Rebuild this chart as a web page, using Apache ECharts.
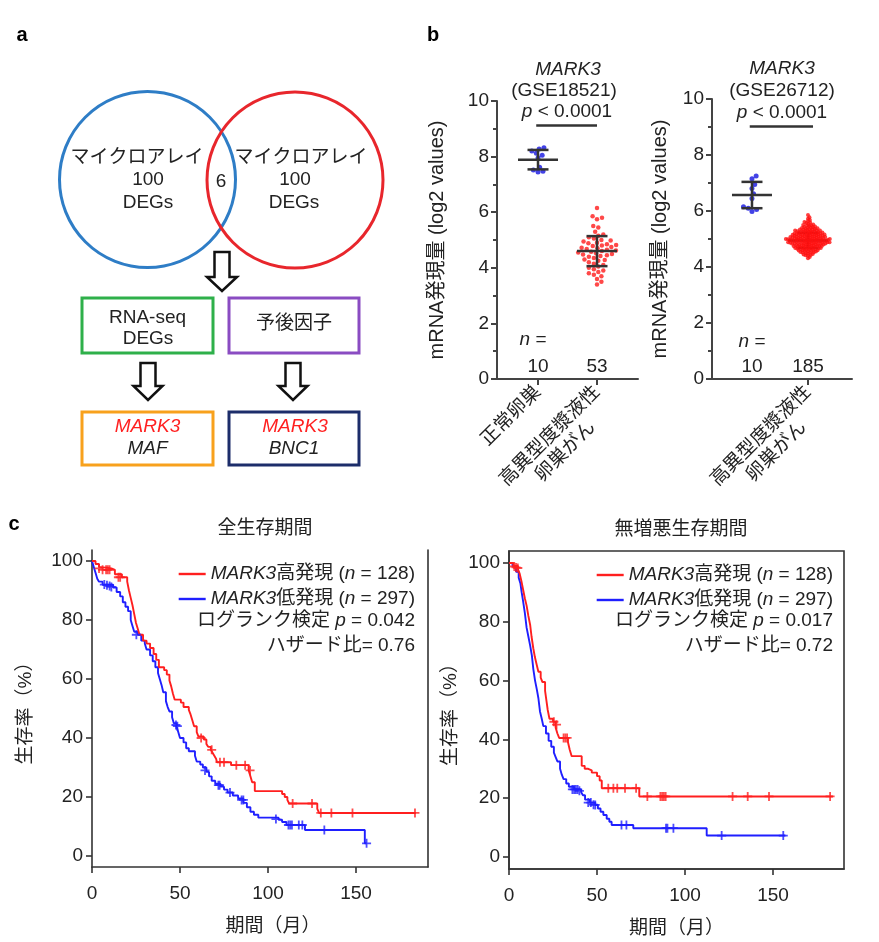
<!DOCTYPE html>
<html><head><meta charset="utf-8">
<script src="https://cdn.jsdelivr.net/npm/echarts@6/dist/echarts.min.js"></script>
<style>html,body{margin:0;padding:0;background:#fff}#c{width:879px;height:942px}</style>
</head><body><div id="c"></div>
<script>
// ---------- data ----------
const bCategories = ['正常卵巣', '高異型度漿液性卵巣がん'];
const b1Title = ['MARK3', '(GSE18521)'];
const b2Title = ['MARK3', '(GSE26712)'];
const b1N = ['10', '53'];
const b2N = ['10', '185'];
const b1NormalVals = [8.32, 8.27, 8.2, 8.12, 8.05, 7.95, 7.62, 7.52, 7.47, 7.45];
const b1CancerVals = [6.15, 5.85, 5.8, 5.75, 5.5, 5.45, 5.3, 5.2, 5.15, 5.1, 5.05, 5.0, 4.98, 4.95, 4.9, 4.88, 4.85, 4.82, 4.8, 4.78, 4.75, 4.72, 4.7, 4.68, 4.65, 4.62, 4.6, 4.58, 4.55, 4.52, 4.5, 4.48, 4.45, 4.42, 4.4, 4.35, 4.3, 4.28, 4.25, 4.2, 4.15, 4.1, 4.05, 4.0, 3.95, 3.9, 3.85, 3.8, 3.75, 3.7, 3.6, 3.5, 3.4];
const b2NormalVals = [7.25, 7.15, 6.95, 6.8, 6.62, 6.45, 6.15, 6.1, 6.05, 5.98];
const b2CancerVals = [5.86,
 5.78,5.72,
 5.68,5.64,5.61,
 5.59,5.57,5.54,5.52,5.50,
 5.49,5.48,5.46,5.45,5.43,5.42,5.41,5.40,
 5.39,5.38,5.37,5.36,5.35,5.34,5.34,5.33,5.32,5.31,5.30,5.30,
 5.29,5.29,5.28,5.27,5.27,5.26,5.25,5.25,5.24,5.23,5.23,5.22,5.21,5.21,5.20,5.20,
 5.19,5.19,5.18,5.18,5.17,5.17,5.16,5.16,5.15,5.15,5.14,5.14,5.13,5.13,5.12,5.12,5.11,5.11,5.10,5.10,
 5.09,5.09,5.08,5.08,5.07,5.07,5.06,5.06,5.05,5.05,5.05,5.04,5.04,5.03,5.03,5.02,5.02,5.01,5.01,5.00,5.00,5.00,
 4.99,4.99,4.99,4.98,4.98,4.97,4.97,4.97,4.96,4.96,4.95,4.95,4.95,4.94,4.94,4.93,4.93,4.93,4.92,4.92,4.91,4.91,4.90,4.90,
 4.89,4.89,4.88,4.88,4.88,4.87,4.87,4.86,4.86,4.85,4.85,4.85,4.84,4.84,4.83,4.83,4.82,4.82,4.81,4.81,4.80,4.80,
 4.79,4.79,4.78,4.78,4.77,4.77,4.76,4.75,4.75,4.74,4.74,4.73,4.72,4.72,4.71,4.71,4.70,4.70,
 4.69,4.68,4.68,4.67,4.66,4.65,4.65,4.64,4.63,4.63,4.62,4.61,4.60,4.60,
 4.59,4.58,4.57,4.56,4.55,4.54,4.53,4.52,4.51,4.50,
 4.48,4.46,4.45,4.43,4.42,4.40,
 4.36,4.31];
const b1Mean = [7.89, 4.6];
const b1SD = [0.35, 0.54];
const b2Mean = [6.57, 4.95];
const b2SD = [0.47, 0.27];
const b1SigY = 9.14;
const b2SigY = 9.04;

const cXTicks = [0, 50, 100, 150];
const cYTicks = [0, 20, 40, 60, 80, 100];
// Kaplan-Meier steps [month, survival %]
const osHigh = [[0,100],[2,99],[4,98],[5,97.5],[11,97],[13,95.5],[17,94.5],[20,93],[21,90],[22,87.5],[23,85],[24,82],[25,79],[26,77],[27,75],[29,73],[31,72],[33,70.5],[35,68.5],[36.5,66.5],[38,64],[41,63],[42.5,61.5],[44,59.5],[45,57.5],[46,55],[47,53],[50.5,52],[52,50.5],[55,49.5],[56,48],[57,46],[58,44],[59.5,42],[60.5,40.5],[63.5,39.5],[65,38],[66,37],[67.5,36],[68.5,35],[69.5,34],[70.5,33],[71,31.8],[79,30.8],[89,29],[90,27],[91,25],[92.5,22],[108,21],[109.5,20],[111,19],[112,17.8],[128,16],[129,14.6],[184,14.6]];
const osHighCensor = [[4,97.5],[6,97],[8,97],[9,97],[10,97],[15,94.5],[16,94.5],[62,40],[68,36],[72.7,31.8],[75,31.8],[82,30.8],[87,30.8],[89.8,29],[114,17.8],[125,17.8],[130,14.6],[136,14.6],[148,14.6],[183.5,14.6]];
const osLow = [[0,100],[1,98],[2,96],[3,94],[4,93],[6,92],[12,91],[14,89.5],[16,88],[17.5,86],[19,84.5],[20.5,83],[22,80],[23,78],[24,76],[26,75],[28,73],[30,72],[31,70],[33,68],[34.5,66],[36,64],[37.5,62],[38.5,60],[39.5,58],[40.5,55.5],[42,52.5],[43,50.5],[44,49],[45.5,47],[46.5,45],[48,44],[49,42],[50,40],[52,38.5],[53.5,36.5],[55,35.5],[58.5,34],[59.5,32],[61.5,31],[63,30],[65,28.5],[66.5,27],[68,25.5],[70,24.5],[73,23.5],[75,22.5],[77,21.5],[80,20.5],[83,19.5],[86,18],[88,16.5],[90,15],[92,14],[94.5,13],[106,12.3],[108,11.5],[110.5,10.5],[121,8.8],[155,4.3],[156,4.3]];
const osLowCensor = [[7,92],[8.5,91.8],[10,91.5],[11,91.2],[25.2,75],[47.7,44.4],[48.5,44],[64.2,29],[71.8,24],[72.5,24],[78.4,21.5],[85,19],[86,19],[104.5,12.5],[111.6,10.5],[112.6,10.5],[113.6,10.5],[117.5,10.5],[119.5,10.5],[132,8.8],[156,4.3]];
const pfsHigh = [[0,100],[2.5,99],[5,98],[6,96.5],[7,94],[8,91],[9,88],[10,85.5],[11,82],[12,79],[12.8,75],[13.8,71],[14.7,68],[15.7,65.5],[16.7,63],[18,61],[19,59.5],[20.5,56.5],[21.3,53],[22,50],[23,47],[25,46],[26.5,44],[27.5,42],[28.5,40.5],[33.5,39],[34.5,36.5],[35.6,34.3],[41.3,31],[43,30],[45,29.5],[47,28.7],[50,27.5],[51.5,26],[52.7,23.4],[74,20.6],[184,20.6]];
const pfsHighCensor = [[3,98.8],[4,98.5],[5,98.3],[25.5,46],[27,45],[31,40.5],[32,40.5],[33,40.5],[56.4,23.4],[59.3,23.4],[61.5,23.4],[65.9,23.4],[72.2,23.4],[78.6,20.6],[86,20.6],[87,20.6],[88,20.6],[89,20.6],[127,20.6],[135.6,20.6],[147.7,20.6],[182.4,20.6]];
const pfsLow = [[0,100],[2,99],[4,97],[5.5,95],[6.5,93],[7.2,90],[8,87],[9,83],[10,78],[11,75],[12,72],[13,68.5],[13.8,64],[14.8,60],[15.8,57],[16.7,54],[17.6,49.5],[18.6,47],[19.5,44.5],[21,42],[22.5,39.5],[24,37.5],[25.5,35.5],[26.5,34],[27.5,32.5],[29,30],[30,28],[31,26.5],[32.5,25],[34,23.9],[37,23],[41,22],[42,21],[43.2,19.5],[46,18.5],[49,17.7],[50.5,16.5],[52,15.4],[53.6,14.3],[55.5,13],[57,12],[58.3,10.9],[70.6,9.8],[112.3,7.3],[157,7.3]];
const pfsLowCensor = [[36,23],[37,23],[38,23],[39,23],[40,22.5],[45,18.5],[46.5,18.5],[48,17.8],[49,17.7],[63.9,10.9],[66.7,10.9],[89.2,9.8],[90,9.8],[93.4,9.8],[120.8,7.3],[155.8,7.3]];
const osStats = ['0.042', '0.76'];
const pfsStats = ['0.017', '0.72'];
const legendN = ['128', '297'];

// ---------- helpers ----------
const FONT = "'Liberation Sans', Arial, 'Noto Sans CJK JP', sans-serif";
const TXT = '#222';
const RED = '#ff1f1f', BLUE = '#1f1fff';
const FB = 19;   // panel b font size
const FC = 19;   // panel c font size
const FA = 19;   // panel a font size

function swarm(values, dPx, pxPerY) {
  const idx = values.map((v, i) => i).sort((a, b) => values[a] - values[b]);
  const placed = [], off = new Array(values.length);
  for (const i of idx) {
    const y = values[i] * pxPerY;
    const near = placed.filter(p => Math.abs(p.y - y) < dPx);
    const cands = [0];
    near.forEach(p => { const dx = Math.sqrt(dPx * dPx - (p.y - y) * (p.y - y)); cands.push(p.x + dx + 0.01, p.x - dx - 0.01); });
    cands.sort((a, b) => Math.abs(a) - Math.abs(b));
    let x = 0;
    for (const c of cands) { if (near.every(p => (p.x - c) * (p.x - c) + (p.y - y) * (p.y - y) >= dPx * dPx - 1e-6)) { x = c; break; } }
    placed.push({ x, y }); off[i] = x;
  }
  return off;
}
function swarmData(values, cat, dPx, pxPerY, pxPerX) {
  const off = swarm(values, dPx, pxPerY);
  return values.map((v, i) => [cat + off[i] / pxPerX, v]);
}
function errRender(halfMean, halfCap) {
  return function (params, api) {
    const x = api.value(0), m = api.value(1), s = api.value(2);
    const c = api.coord([x, m]), t = api.coord([x, m + s]), b = api.coord([x, m - s]);
    const st = { stroke: '#333', lineWidth: 2.5 };
    return { type: 'group', children: [
      { type: 'line', shape: { x1: c[0] - halfMean, y1: c[1], x2: c[0] + halfMean, y2: c[1] }, style: st },
      { type: 'line', shape: { x1: c[0], y1: t[1], x2: c[0], y2: b[1] }, style: st },
      { type: 'line', shape: { x1: c[0] - halfCap, y1: t[1], x2: c[0] + halfCap, y2: t[1] }, style: st },
      { type: 'line', shape: { x1: c[0] - halfCap, y1: b[1], x2: c[0] + halfCap, y2: b[1] }, style: st }
    ] };
  };
}
function T(x, y, text, size, extra) {
  return { type: 'text', x, y, z: 20, style: Object.assign({ text, fontSize: size, fontFamily: FONT, fill: TXT, align: 'center', verticalAlign: 'middle' }, extra || {}) };
}
function richI(size, color) { return { i: { fontStyle: 'italic', fontSize: size, fontFamily: FONT, fill: color || TXT } }; }
function arrow(cx, top, shaftEnd, bottom, sh, hh) {
  return { type: 'polygon', z: 20, shape: { points: [[cx - sh, top], [cx + sh, top], [cx + sh, shaftEnd], [cx + hh, shaftEnd], [cx, bottom], [cx - hh, shaftEnd], [cx - sh, shaftEnd]] }, style: { fill: '#fff', stroke: '#111', lineWidth: 2.5 } };
}
function box(x, y, w, h, color) {
  return { type: 'rect', z: 20, shape: { x, y, width: w, height: h }, style: { fill: 'none', stroke: color, lineWidth: 3 } };
}
const PLUS = 'path://M4,0L6,0L6,4L10,4L10,6L6,6L6,10L4,10L4,6L0,6L0,4L4,4Z';

// ---------- axes ----------
const axisCol = '#444';
function bXAxis(grid, min, max) {
  return {
    gridIndex: grid, type: 'value', min, max,
    axisLine: { show: true, onZero: false, lineStyle: { color: axisCol, width: 2 } },
    axisTick: { show: true, customValues: [1, 2], length: 6, lineStyle: { color: axisCol, width: 2 } },
    splitLine: { show: false },
    axisLabel: {
      customValues: [1, 2], rotate: 45, margin: 10, fontSize: FB, fontFamily: FONT, color: TXT,
      formatter: v => Math.round(v) === 1 ? bCategories[0] : '{e| }\n{c|高異型度漿液性}\n{c|卵巣がん}',
      rich: { c: { width: FB * 7, align: 'center', fontSize: FB, lineHeight: 22, fontFamily: FONT, color: TXT },
              e: { width: FB * 7, fontSize: FB, lineHeight: 22 } }
    }
  };
}
function bYAxis(grid, gap) {
  return {
    gridIndex: grid, type: 'value', min: 0, max: 10, interval: 2,
    name: 'mRNA発現量 (log2 values)', nameLocation: 'middle', nameRotate: 90, nameGap: gap,
    nameTextStyle: { fontSize: 20, fontFamily: FONT, color: TXT },
    axisLine: { show: true, onZero: false, lineStyle: { color: axisCol, width: 2 } },
    axisTick: { show: true, length: 6, lineStyle: { color: axisCol, width: 2 } },
    minorTick: { show: true, splitNumber: 2, length: 4, lineStyle: { color: axisCol, width: 2 } },
    splitLine: { show: false }, minorSplitLine: { show: false },
    axisLabel: { margin: 8, fontSize: FB, fontFamily: FONT, color: TXT }
  };
}
function cXAxis(grid, max, pad) {
  return {
    gridIndex: grid, type: 'value', min: 0, max,
    name: '期間（月）', nameLocation: 'middle', nameGap: 50,
    nameTextStyle: { fontSize: FC, fontFamily: FONT, color: TXT, padding: [0, 0, 0, pad] },
    axisLine: { show: true, onZero: false, lineStyle: { color: '#333', width: 1.6 } },
    axisTick: { show: true, customValues: cXTicks, length: 6, lineStyle: { color: '#333', width: 1.6 } },
    axisLabel: { customValues: cXTicks, margin: 17, fontSize: FC, fontFamily: FONT, color: TXT },
    splitLine: { show: false }
  };
}
function cYAxis(grid, min, max, gap) {
  return {
    gridIndex: grid, type: 'value', min, max,
    name: '生存率（%）', nameLocation: 'middle', nameRotate: 90, nameGap: gap,
    nameTextStyle: { fontSize: FC, fontFamily: FONT, color: TXT },
    axisLine: { show: true, onZero: false, lineStyle: { color: '#333', width: 1.6 } },
    axisTick: { show: true, customValues: cYTicks, length: 6, lineStyle: { color: '#333', width: 1.6 } },
    axisLabel: { customValues: cYTicks, margin: 9, fontSize: FC, fontFamily: FONT, color: TXT },
    splitLine: { show: false }
  };
}

function kmLine(name, data, color, xi) {
  return { name, type: 'line', step: 'end', data, xAxisIndex: xi, yAxisIndex: xi, symbol: 'none', showSymbol: false,
    lineStyle: { color, width: 1.9 }, itemStyle: { color }, z: name === 'hi' ? 4 : 3 };
}
function kmCensor(name, data, color, xi) {
  return { name, type: 'scatter', data, xAxisIndex: xi, yAxisIndex: xi, symbol: PLUS, symbolSize: 9,
    itemStyle: { color }, z: name.startsWith('hi') ? 5 : 4 };
}

const chart = echarts.init(document.getElementById('c'), null, { renderer: 'canvas' });
const legendText = { fontSize: FC, lineHeight: 20, fontFamily: FONT, color: TXT, rich: { i: { fontStyle: 'italic', fontSize: FC, lineHeight: 20, fontFamily: FONT, color: TXT } } };
const legendFmt = n => n === 'hi' ? '{i|MARK3}高発現 ({i|n} = ' + legendN[0] + ')' : '{i|MARK3}低発現 ({i|n} = ' + legendN[1] + ')';
const legendBase = { orient: 'vertical', align: 'left', icon: 'rect', itemWidth: 27, itemHeight: 2.4, itemGap: 5, padding: 0, selectedMode: false, data: ['hi', 'lo'], formatter: legendFmt, textStyle: legendText };

const option = {
  animation: false,
  backgroundColor: '#fff',
  title: [
    { text: '全生存期間', left: 260, top: 514, textAlign: 'center', textStyle: { fontSize: FC, fontWeight: 'normal', fontFamily: FONT, color: TXT } },
    { text: '無増悪生存期間', left: 676, top: 515, textAlign: 'center', textStyle: { fontSize: FC, fontWeight: 'normal', fontFamily: FONT, color: TXT } }
  ],
  legend: [
    Object.assign({ right: 464, top: 564 }, legendBase),
    Object.assign({ right: 46, top: 565 }, legendBase)
  ],
  grid: [
    { left: 497, top: 101, width: 141, height: 278 },
    { left: 712, top: 99, width: 140, height: 280 },
    { left: 92, top: 550, width: 336, height: 317 },
    { left: 509, top: 551, width: 335, height: 318, show: true, borderColor: '#333', borderWidth: 1.6 }
  ],
  xAxis: [ bXAxis(0, 0.305, 2.695), bXAxis(1, 0.286, 2.786), cXAxis(2, 190.9, 26), cXAxis(3, 190.3, 0) ],
  yAxis: [ bYAxis(0, 50), bYAxis(1, 42), cYAxis(2, -3.73, 103.73, 57), cYAxis(3, -4.08, 104.08, 49),
    { gridIndex: 2, type: 'value', position: 'right', min: -3.73, max: 103.73,
      axisLine: { show: true, onZero: false, lineStyle: { color: '#333', width: 1.6 } }, axisTick: { show: false }, axisLabel: { show: false }, splitLine: { show: false } } ],
  series: [
    { name: 'b1n', type: 'scatter', xAxisIndex: 0, yAxisIndex: 0, data: swarmData(b1NormalVals, 1, 5, 27.8, 59), symbolSize: 5, itemStyle: { color: '#1414e0' }, z: 2,
      markLine: { silent: true, symbol: 'none', label: { show: false }, lineStyle: { color: '#333', width: 2.5, type: 'solid' }, data: [[{ coord: [0.97, b1SigY] }, { coord: [2.0, b1SigY] }]] } },
    { name: 'b1c', type: 'scatter', xAxisIndex: 0, yAxisIndex: 0, data: swarmData(b1CancerVals, 2, 5.2, 27.8, 59), symbolSize: 4.5, itemStyle: { color: '#ff1a1a' }, z: 2 },
    { name: 'b1e', type: 'custom', xAxisIndex: 0, yAxisIndex: 0, renderItem: errRender(20, 10.5), encode: { x: 0, y: 1 }, data: [[1, b1Mean[0], b1SD[0]], [2, b1Mean[1], b1SD[1]]], z: 5 },
    { name: 'b2n', type: 'scatter', xAxisIndex: 1, yAxisIndex: 1, data: swarmData(b2NormalVals, 1, 5, 28, 56), symbolSize: 5, itemStyle: { color: '#1414e0' }, z: 2,
      markLine: { silent: true, symbol: 'none', label: { show: false }, lineStyle: { color: '#333', width: 2.5, type: 'solid' }, data: [[{ coord: [0.96, b2SigY] }, { coord: [2.09, b2SigY] }]] } },
    { name: 'b2e', type: 'custom', xAxisIndex: 1, yAxisIndex: 1, renderItem: errRender(20, 10.5), encode: { x: 0, y: 1 }, data: [[1, b2Mean[0], b2SD[0]], [2, b2Mean[1], b2SD[1]]], z: 3 },
    { name: 'b2c', type: 'scatter', xAxisIndex: 1, yAxisIndex: 1, data: swarmData(b2CancerVals, 2, 2.2, 28, 56), symbolSize: 4, itemStyle: { color: '#ff1010' }, z: 6 },
    kmLine('lo', osLow, BLUE, 2), kmLine('hi', osHigh, RED, 2),
    kmCensor('loC', osLowCensor, BLUE, 2), kmCensor('hiC', osHighCensor, RED, 2),
    kmLine('lo', pfsLow, BLUE, 3), kmLine('hi', pfsHigh, RED, 3),
    kmCensor('loC2', pfsLowCensor, BLUE, 3), kmCensor('hiC2', pfsHighCensor, RED, 3)
  ],
  graphic: [
    // panel letters
    T(22, 35, 'a', 20, { fontWeight: 'bold', fill: '#000' }),
    T(433, 35, 'b', 20, { fontWeight: 'bold', fill: '#000' }),
    T(14, 524, 'c', 20, { fontWeight: 'bold', fill: '#000' }),
    // panel a: Venn
    { type: 'circle', z: 19, shape: { cx: 147.5, cy: 179.5, r: 88 }, style: { fill: 'none', stroke: '#2e7dc6', lineWidth: 3 } },
    { type: 'circle', z: 19, shape: { cx: 295, cy: 180, r: 88 }, style: { fill: 'none', stroke: '#e8262c', lineWidth: 3 } },
    T(137, 158, 'マイクロアレイ', FA), T(148, 180, '100', FA), T(148, 203, 'DEGs', FA),
    T(301, 158, 'マイクロアレイ', FA), T(295, 180, '100', FA), T(294, 203, 'DEGs', FA),
    T(221, 182, '6', FA),
    arrow(222, 252, 277, 291, 7.5, 15),
    box(82, 298, 131, 55, '#2eb04a'), box(229, 298, 130, 55, '#8a4cc2'),
    T(147.5, 318, 'RNA-seq', FA), T(148, 339, 'DEGs', FA), T(294, 324, '予後因子', FA),
    arrow(148, 363, 386, 400, 7.5, 14.5), arrow(293, 363, 386, 400, 7.5, 14.5),
    box(82, 412, 131, 53, '#f8a11c'), box(229, 412, 130, 53, '#1c2d6a'),
    T(147.5, 427, 'MARK3', FA, { fontStyle: 'italic', fill: '#ff2020' }), T(147.5, 449, 'MAF', FA, { fontStyle: 'italic' }),
    T(295, 427, 'MARK3', FA, { fontStyle: 'italic', fill: '#ff2020' }), T(294, 449, 'BNC1', FA, { fontStyle: 'italic' }),
    // panel b titles
    T(568, 70, b1Title[0], FB, { fontStyle: 'italic' }), T(564, 91, b1Title[1], FB),
    T(567, 112, '{i|p} < 0.0001', FB, { rich: richI(FB) }),
    T(782, 69, b2Title[0], FB, { fontStyle: 'italic' }), T(782, 91, b2Title[1], FB),
    T(782, 113, '{i|p} < 0.0001', FB, { rich: richI(FB) }),
    T(533, 340, '{i|n} =', FB, { rich: richI(FB) }), T(538, 367, b1N[0], FB), T(597, 367, b1N[1], FB),
    T(752, 342, '{i|n} =', FB, { rich: richI(FB) }), T(752, 367, b2N[0], FB), T(808, 367, b2N[1], FB),
    // panel c stats
    T(415, 621, 'ログランク検定 {i|p} = ' + osStats[0], FC, { align: 'right', rich: richI(FC) }),
    T(415, 646, 'ハザード比= ' + osStats[1], FC, { align: 'right' }),
    T(833, 621, 'ログランク検定 {i|p} = ' + pfsStats[0], FC, { align: 'right', rich: richI(FC) }),
    T(833, 646, 'ハザード比= ' + pfsStats[1], FC, { align: 'right' })
  ]
};
chart.setOption(option);
</script>
</body></html>
